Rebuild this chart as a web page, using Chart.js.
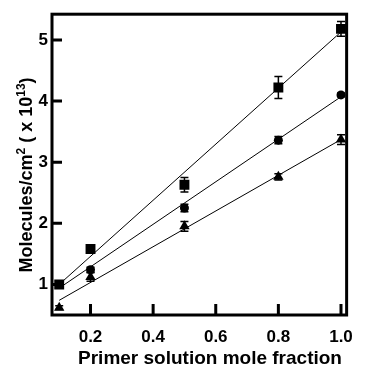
<!DOCTYPE html>
<html>
<head>
<meta charset="utf-8">
<script src="https://cdn.jsdelivr.net/npm/chart.js@4"></script>
<style>
  html, body { margin: 0; padding: 0; background: #fff; }
  #wrap { width: 365px; height: 366px; }
</style>
</head>
<body>
<div id="wrap"><canvas id="chart"></canvas></div>
<script>
// values
const xValues = [0.1, 0.2, 0.5, 0.8, 1.0];
const squareY = [1.00, 1.58, 2.63, 4.22, 5.18];
const squareErr = [0.03, 0.05, 0.12, 0.18, 0.12];
const circleY = [1.00, 1.24, 2.25, 3.36, 4.10];
const circleErr = [0.03, 0.04, 0.06, 0.06, 0.03];
const triangleY = [0.62, 1.12, 1.95, 2.76, 3.37];
const triangleErr = [0.03, 0.07, 0.08, 0.05, 0.08];

// linear fits
const fitX = [0.1, 1.0];
const squareFit = [1.00, 5.13];
const circleFit = [0.94, 4.07];
const triangleFit = [0.74, 3.37];

const xTicks = [0.2, 0.4, 0.6, 0.8, 1.0];
const yTicks = [1, 2, 3, 4, 5];

const xTitle = 'Primer solution mole fraction';
const yTitleParts = [['Molecules/cm', false], ['2', true], [' ( x 10', false], ['13', true], [')', false]];

const FONT = '"Liberation Sans", Arial, sans-serif';

const pts = (xs, ys) => xs.map((x, i) => ({ x: x, y: ys[i] }));

const markerSet = (label, ys, errs, style, radius) => ({
    type: 'scatter',
    label: label,
    data: pts(xValues, ys),
    errors: errs,
    pointStyle: style,
    pointRadius: radius,
    backgroundColor: '#000',
    borderColor: '#000',
    borderWidth: 0
});

const fitSet = (ys) => ({
    type: 'line',
    data: pts(fitX, ys),
    borderColor: '#000',
    borderWidth: 1,
    pointRadius: 0,
    fill: false
});

// error bars, frame, inside ticks and axis titles
const decor = {
    id: 'decor',
    afterDatasetsDraw(chart) {
        const ctx = chart.ctx;
        const xs = chart.scales.x, ys = chart.scales.y;
        ctx.save();
        ctx.strokeStyle = '#000';
        ctx.lineWidth = 1.5;
        chart.data.datasets.forEach(ds => {
            if (!ds.errors) return;
            ds.data.forEach((p, i) => {
                const e = ds.errors[i];
                const px = xs.getPixelForValue(p.x);
                const top = ys.getPixelForValue(p.y + e);
                const bot = ys.getPixelForValue(p.y - e);
                ctx.beginPath();
                ctx.moveTo(px, top); ctx.lineTo(px, bot);
                ctx.moveTo(px - 4, top); ctx.lineTo(px + 4, top);
                ctx.moveTo(px - 4, bot); ctx.lineTo(px + 4, bot);
                ctx.stroke();
            });
        });
        const a = chart.chartArea;
        ctx.lineWidth = 3;
        ctx.strokeRect(a.left, a.top, a.right - a.left, a.bottom - a.top);
        ctx.beginPath();
        yTicks.forEach(v => {
            const py = ys.getPixelForValue(v);
            ctx.moveTo(a.left, py); ctx.lineTo(a.left + 10, py);
        });
        xTicks.forEach(v => {
            const px = xs.getPixelForValue(v);
            ctx.moveTo(px, a.bottom); ctx.lineTo(px, a.bottom - 11);
        });
        ctx.stroke();

        ctx.fillStyle = '#000';
        ctx.textBaseline = 'alphabetic';

        // x title
        ctx.font = 'bold 19px ' + FONT;
        ctx.textAlign = 'center';
        ctx.fillText(xTitle, 210, 364);

        // y title with superscripts
        ctx.textAlign = 'left';
        const big = 'bold 18px ' + FONT, small = 'bold 12px ' + FONT;
        let total = 0;
        yTitleParts.forEach(p => { ctx.font = p[1] ? small : big; total += ctx.measureText(p[0]).width; });
        ctx.translate(32, 175);
        ctx.rotate(-Math.PI / 2);
        let cx = -total / 2;
        yTitleParts.forEach(p => {
            ctx.font = p[1] ? small : big;
            ctx.fillText(p[0], cx, p[1] ? -7 : 0);
            cx += ctx.measureText(p[0]).width;
        });
        ctx.restore();
    }
};

new Chart(document.getElementById('chart'), {
    data: {
        datasets: [
            markerSet('squares', squareY, squareErr, 'rect', 7),
            markerSet('circles', circleY, circleErr, 'circle', 4.5),
            markerSet('triangles', triangleY, triangleErr, 'triangle', 6),
            fitSet(squareFit),
            fitSet(circleFit),
            fitSet(triangleFit)
        ]
    },
    options: {
        responsive: true,
        maintainAspectRatio: false,
        animation: false,
        layout: { padding: { left: 0, top: 13, right: 10, bottom: 0 } },
        scales: {
            x: {
                type: 'linear',
                min: 0.077,
                max: 1.018,
                afterBuildTicks: s => { s.ticks = xTicks.map(v => ({ value: v })); },
                afterFit: s => { s.height = 51; },
                grid: { display: false, drawTicks: false, tickLength: 0 },
                border: { display: false },
                ticks: {
                    color: '#000',
                    padding: 12,
                    maxRotation: 0,
                    font: { family: FONT, size: 17, weight: 'bold' },
                    callback: v => v.toFixed(1)
                }
            },
            y: {
                type: 'linear',
                min: 0.5,
                max: 5.42,
                afterBuildTicks: s => { s.ticks = yTicks.map(v => ({ value: v })); },
                afterFit: s => { s.width = 52; },
                grid: { display: false, drawTicks: false, tickLength: 0 },
                border: { display: false },
                ticks: {
                    color: '#000',
                    padding: 4,
                    font: { family: FONT, size: 17, weight: 'bold' }
                }
            }
        },
        plugins: {
            legend: { display: false },
            tooltip: { enabled: false }
        }
    },
    plugins: [decor]
});
</script>
</body>
</html>
